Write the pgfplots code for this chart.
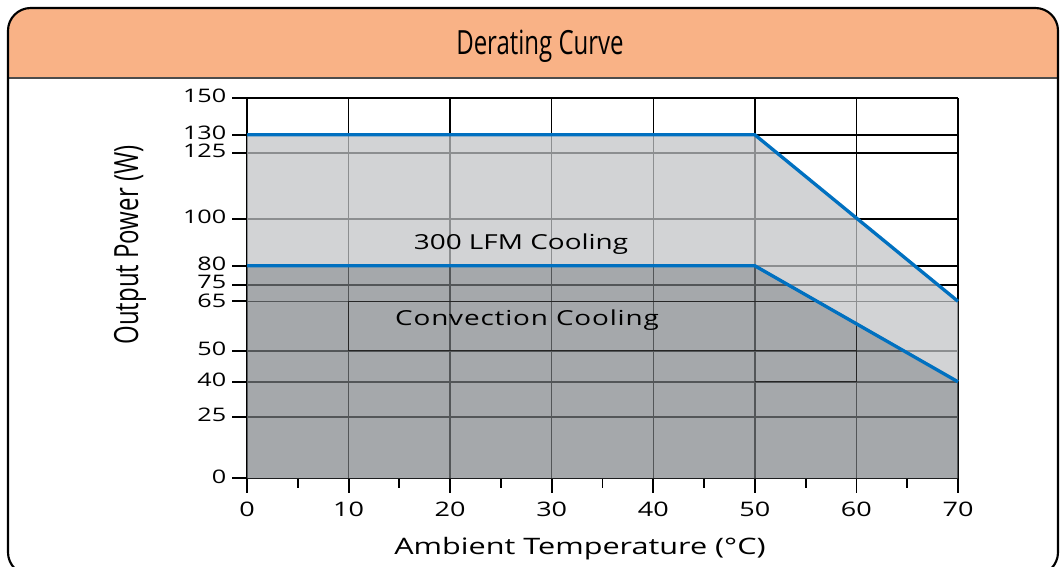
\documentclass[border=0pt]{standalone}
\usepackage{pgfplots}
\pgfplotsset{compat=1.18}
\usepackage{fontspec}
\setmainfont[FakeStretch=1.35]{Open Sans}
\newfontfamily\condfont[FakeStretch=0.72]{Open Sans}
\definecolor{headcol}{RGB}{249,178,134}
\definecolor{curveblue}{RGB}{0,112,192}
\definecolor{lightfill}{RGB}{193,195,198}
\definecolor{darkfill}{RGB}{123,127,131}

\begin{document}
\begin{tikzpicture}
% frame, header and outer labels, in image pixels (y down)
\begin{scope}[x=0.75pt,y=-0.75pt]
\useasboundingbox (0,0) rectangle (1063,567);
\begin{scope}
  \clip[rounded corners=17pt] (8,8) rectangle (1058,575);
  \fill[headcol] (0,0) rectangle (1063,78);
\end{scope}
\draw[line width=1.2pt, black!70] (8,78) -- (1058,78);
\draw[line width=1.6pt, rounded corners=17pt] (8,8) rectangle (1058,575);
\node[font=\condfont\fontsize{25}{28}\selectfont] at (540,46) {Derating Curve};
\node[rotate=90, font=\condfont\fontsize{25}{28}\selectfont] at (130,245) {Output Power (W)};
\node[font=\fontsize{17}{20}\selectfont] at (580,549) {Ambient Temperature (°C)};
\end{scope}

\begin{axis}[
  at={(185.25pt,-358.725pt)}, anchor=south west,
  scale only axis, width=533.25pt, height=285.375pt,
  xmin=0, xmax=70, ymin=0, ymax=150,
  % the y scale of the original is drawn by hand: piecewise linear between ticks
  y coord trafo/.code={\pgfmathparse{ifthenelse(#1<=25, #1*61.5/25,
    ifthenelse(#1<=40, 61.5+(#1-25)*35/15,
    ifthenelse(#1<=50, 96.5+(#1-40)*31/10,
    ifthenelse(#1<=65, 127.5+(#1-50)*49.5/15,
    ifthenelse(#1<=75, 177+(#1-65)*16.5/10,
    ifthenelse(#1<=80, 193.5+(#1-75)*19/5,
    ifthenelse(#1<=100, 212.5+(#1-80)*47/20,
    ifthenelse(#1<=125, 259.5+(#1-100)*66/25,
    ifthenelse(#1<=130, 325.5+(#1-125)*18/5,
    343.5+(#1-130)*37/20)))))))))}},
  xtick={0,10,...,70}, minor xtick={5,15,...,65},
  ytick={0,25,40,50,65,75,80,100,125,130,150},
  yticklabels={0,25,40,50,\raisebox{-0.8pt}{65},\raisebox{0.8pt}{75},80,100,125,130,150},
  /pgf/number format/assume math mode=true,
  xtick pos=bottom, ytick pos=left,
  tick align=outside,
  major tick length=11pt, minor tick length=7pt,
  tick style={black, line width=1.4pt},
  axis line style={draw=none},
  xmajorgrids, ymajorgrids,
  major grid style={black, line width=1.1pt},
  xticklabel style={font=\fontsize{15}{17}\selectfont, yshift=-3pt},
  yticklabel style={font=\fontsize{14}{16}\selectfont, xshift=-1pt,
    inner ysep=0pt, text height=0.71em, text depth=0pt},
  clip=false,
]
\addplot[draw=none, fill=lightfill, fill opacity=0.73]
  coordinates {(0,130) (50,130) (70,65) (70,40) (50,80) (0,80)} -- cycle;
\addplot[draw=none, fill=darkfill, fill opacity=0.68]
  coordinates {(0,80) (50,80) (70,40) (70,0) (0,0)} -- cycle;
\addplot[black!85, line width=0.8pt] coordinates {(56.1,65) (10,65) (10,50) (60,50)};
\addplot[black!85, line width=0.8pt] coordinates {(60,58.2) (60,40) (50,40)};
\addplot[curveblue, line width=2.5pt] coordinates {(0,130) (50,130) (70,65)};
\addplot[curveblue, line width=2.5pt] coordinates {(0,80) (50,80) (70,40)};
\end{axis}

\begin{scope}[x=0.75pt,y=-0.75pt]
\node[font=\fontsize{15.5}{18}\selectfont] at (521,244) {300 LFM Cooling};
\node[font=\fontsize{15.5}{18}\selectfont\addfontfeatures{LetterSpace=4}] at (527,320) {Convection Cooling};
\end{scope}
\end{tikzpicture}
\end{document}
